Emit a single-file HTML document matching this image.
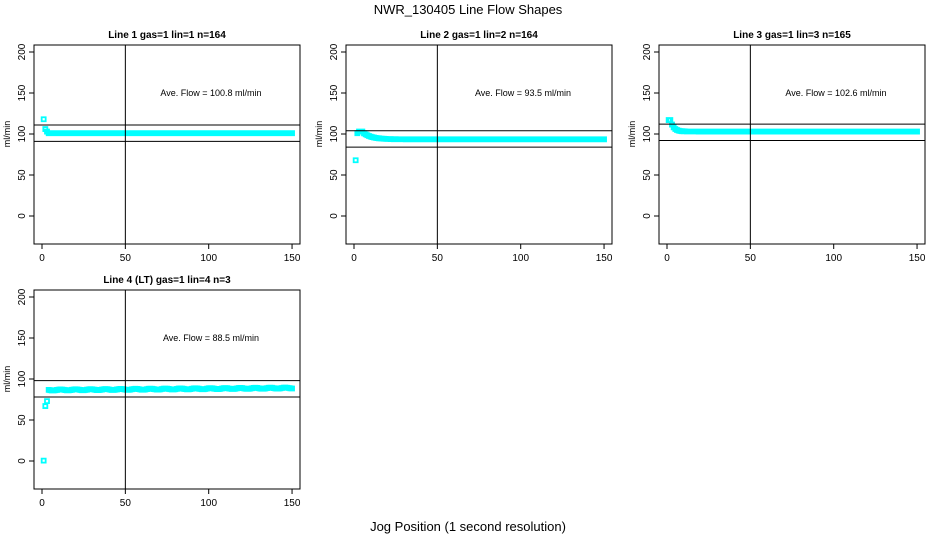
<!DOCTYPE html>
<html><head><meta charset="utf-8"><style>
body{margin:0;background:#fff}
svg{display:block;font-family:"Liberation Sans",sans-serif}
</style></head><body>
<svg id="s" width="936" height="540" xmlns="http://www.w3.org/2000/svg">
<rect width="936" height="540" fill="#fff"/>
<text x="468" y="14" font-size="13" text-anchor="middle">NWR_130405  Line Flow Shapes</text>
<text x="468" y="531" font-size="13" text-anchor="middle">Jog Position (1 second resolution)</text>
</svg>
<script>
var s=document.getElementById('s'),NS='http://www.w3.org/2000/svg';
function el(t,a,tx){var e=document.createElementNS(NS,t);for(var k in a)e.setAttribute(k,a[k]);if(tx!==undefined)e.textContent=tx;s.appendChild(e);return e;}
var panels=[
 {dx:0,dy:0,title:'Line 1 gas=1 lin=1 n=164',ave:'Ave. Flow =  100.8  ml/min',h:[111,91],f:function(x){if(x==1)return 118;if(x==2)return 106;if(x==3)return 103;return 101;}},
 {dx:312,dy:0,title:'Line 2 gas=1 lin=2 n=164',ave:'Ave. Flow =  93.5  ml/min',h:[104,84],f:function(x){if(x==1)return 68;if(x==2)return 101;if(x<6)return 103;return 93.5+9*Math.exp(-(x-5)/5);}},
 {dx:625,dy:0,title:'Line 3 gas=1 lin=3 n=165',ave:'Ave. Flow =  102.6  ml/min',h:[112,92],f:function(x){if(x<=2)return 117;return 103+14*Math.exp(-(x-2)/2);}},
 {dx:0,dy:245,title:'Line 4 (LT) gas=1 lin=4 n=3',ave:'Ave. Flow =  88.5  ml/min',h:[98,78],f:function(x){if(x==1)return 0.5;if(x==2)return 67;if(x==3)return 73;return 86.5+2.5*x/150+0.6*Math.sin(x*0.7);}}
];
panels.forEach(function(p){
 var L=34+p.dx,T=45+p.dy,R=300+p.dx,B=244+p.dy;
 var X=function(v){return 42+p.dx+v*1.667},Y=function(v){return 216+p.dy-v*0.82};
 el('text',{x:(L+R)/2,y:T-7,'font-size':'10','font-weight':'bold','text-anchor':'middle'},p.title);
 el('rect',{x:L,y:T,width:R-L,height:B-T,fill:'none',stroke:'#000','stroke-width':1});
 [0,50,100,150].forEach(function(v){el('line',{x1:X(v),x2:X(v),y1:B,y2:B+5,stroke:'#000'});el('text',{x:X(v),y:B+17,'font-size':'10','text-anchor':'middle'},v);});
 el('line',{x1:X(0),x2:X(150),y1:B,y2:B,stroke:'#000'});
 [0,50,100,150,200].forEach(function(v){el('line',{x1:L-5,x2:L,y1:Y(v),y2:Y(v),stroke:'#000'});el('text',{x:0,y:0,'font-size':'10','text-anchor':'middle',transform:'translate('+(L-9)+','+Y(v)+') rotate(-90)'},v);});
 el('text',{x:0,y:0,'font-size':'9','text-anchor':'middle',transform:'translate('+(L-24)+','+Y(100)+') rotate(-90)'},'ml/min');
 el('text',{x:(L+R)/2+44,y:Y(150)+3,'font-size':'9','text-anchor':'middle'},p.ave);
 var d='';
 for(var x=1;x<=150;x++){var v=p.f(x);d+='M'+(X(x)-2)+' '+(Y(v)-2)+'h4v4h-4z';}
 el('path',{d:d,fill:'none',stroke:'#00ffff','stroke-width':1.8});
 el('line',{x1:X(50),x2:X(50),y1:T,y2:B,stroke:'#000'});
 p.h.forEach(function(v){el('line',{x1:L,x2:R,y1:Y(v),y2:Y(v),stroke:'#000'});});
});
</script>
</body></html>
